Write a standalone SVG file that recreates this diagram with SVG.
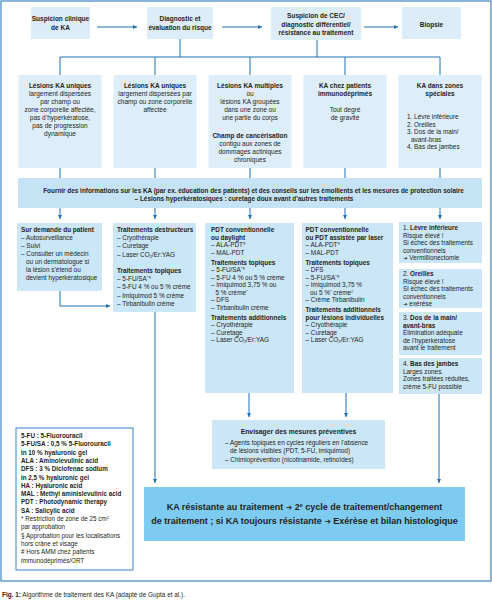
<svg xmlns="http://www.w3.org/2000/svg" width="492" height="600" viewBox="0 0 492 600">
<defs>
<style>
text{font-family:"Liberation Sans",Arial,sans-serif;fill:#231f20}
.hd{font-size:6.5px;font-weight:bold;text-anchor:middle}
.c{font-size:6.5px;text-anchor:middle}
.s{font-size:6.4px}
.l{font-size:6.3px;font-weight:bold}
.f{font-size:6.3px}
.b{font-weight:bold}
.ar{font-family:"DejaVu Sans",sans-serif;font-size:0.85em}
.top{fill:#dcecf8}
.col{fill:#ddedf9}
.band{fill:#c6e3f5}
.r3{fill:#cbe6f7}
.big{fill:#7dcbf0}
.ln{stroke:#1f6fb4;stroke-width:1;fill:none}
.la{stroke:#1f6fb4;stroke-width:1;fill:none;marker-end:url(#ah)}
</style>
<marker id="ah" viewBox="0 0 6 6" refX="6" refY="3" markerUnits="userSpaceOnUse" markerWidth="4.5" markerHeight="4.5" orient="auto">
<path d="M0,0 L6,3 L0,6 z" fill="#1f6fb4"/>
</marker>
</defs>
<rect x="1" y="1" width="490" height="580" fill="#fff" stroke="#3b82c4" stroke-width="1.2"/>

<g id="connectors">
<line class="la" x1="97" y1="27" x2="137" y2="27"/>
<line class="la" x1="222" y1="27" x2="262" y2="27"/>
<line class="la" x1="364" y1="27" x2="398" y2="27"/>
<line class="ln" x1="180" y1="39" x2="180" y2="57"/>
<line class="ln" x1="317" y1="40" x2="317" y2="57"/>
<line class="ln" x1="60" y1="57" x2="440" y2="57"/>
<line class="ln" x1="60" y1="57" x2="60" y2="75"/>
<line class="ln" x1="155" y1="57" x2="155" y2="75"/>
<line class="ln" x1="250" y1="57" x2="250" y2="75"/>
<line class="ln" x1="345" y1="57" x2="345" y2="75"/>
<line class="ln" x1="440" y1="57" x2="440" y2="75"/>
<line class="ln" x1="60" y1="168" x2="60" y2="178"/>
<line class="ln" x1="155" y1="168" x2="155" y2="178"/>
<line class="ln" x1="250" y1="168" x2="250" y2="178"/>
<line class="ln" x1="345" y1="168" x2="345" y2="178"/>
<line class="ln" x1="440" y1="168" x2="440" y2="178"/>
<line class="la" x1="60" y1="208" x2="60" y2="219"/>
<line class="la" x1="155" y1="208" x2="155" y2="219"/>
<line class="la" x1="250" y1="208" x2="250" y2="219"/>
<line class="la" x1="345" y1="208" x2="345" y2="219"/>
<line class="la" x1="440" y1="208" x2="440" y2="219"/>
<polyline class="la" points="60,291 60,306 110,306"/>
<line class="la" x1="155" y1="312" x2="155" y2="483"/>
<line class="la" x1="249" y1="393" x2="249" y2="417"/>
<line class="la" x1="346" y1="393" x2="346" y2="417"/>
<line class="la" x1="439" y1="394" x2="439" y2="483"/>
</g>

<g id="n-suspicion">
<rect class="top" x="31" y="7" width="59" height="32"/>
<text class="hd" x="60.5" y="21">Suspicion clinique</text>
<text class="hd" x="60.5" y="29.5">de KA</text>
</g>
<g id="n-diagnostic">
<rect class="top" x="147" y="7" width="66" height="32"/>
<text class="hd" x="180" y="21">Diagnostic et</text>
<text class="hd" x="180" y="29.5">évaluation du risque</text>
</g>
<g id="n-cec">
<rect class="top" x="271" y="7" width="90" height="33"/>
<text class="hd" x="316" y="18">Suspicion de CEC/</text>
<text class="hd" x="316" y="26.5">diagnostic différentiel/</text>
<text class="hd" x="316" y="35">résistance au traitement</text>
</g>
<g id="n-biopsie">
<rect class="top" x="402" y="7" width="59" height="32"/>
<text class="hd" x="431.5" y="27">Biopsie</text>
</g>

<g id="n-col1">
<rect class="col" x="18.5" y="75" width="83" height="93"/>
<text class="c b" x="60" y="87.5">Lésions KA uniques</text>
<text class="c" x="60" y="95.5">largement dispersées</text>
<text class="c" x="60" y="103.5">par champ ou</text>
<text class="c" x="60" y="111.5">zone corporelle affectée,</text>
<text class="c" x="60" y="119.5">pas d’hyperkératose,</text>
<text class="c" x="60" y="127.5">pas de progression</text>
<text class="c" x="60" y="135.5">dynamique</text>
</g>
<g id="n-col2">
<rect class="col" x="113.5" y="75" width="83" height="93"/>
<text class="c b" x="155" y="87.5">Lésions KA uniques</text>
<text class="c" x="155" y="95.5">largement dispersées par</text>
<text class="c" x="155" y="103.5">champ ou zone corporelle</text>
<text class="c" x="155" y="111.5">affectée</text>
</g>
<g id="n-col3">
<rect class="col" x="208.5" y="75" width="83" height="93"/>
<text class="c b" x="250" y="87.5">Lésions KA multiples</text>
<text class="c" x="250" y="95.5">ou</text>
<text class="c" x="250" y="103.5">lésions KA groupées</text>
<text class="c" x="250" y="111.5">dans une zone ou</text>
<text class="c" x="250" y="119.5">une partie du corps</text>
<text class="c b" x="250" y="137.5">Champ de cancérisation</text>
<text class="c" x="250" y="145.5">contigu aux zones de</text>
<text class="c" x="250" y="153.5">dommages actiniques</text>
<text class="c" x="250" y="161.5">chroniques</text>
</g>
<g id="n-col4">
<rect class="col" x="303.5" y="75" width="83" height="93"/>
<text class="c b" x="345" y="87.5">KA chez patients</text>
<text class="c b" x="345" y="95.5">immunodéprimés</text>
<text class="c" x="345" y="111.5">Tout degré</text>
<text class="c" x="345" y="119.5">de gravité</text>
</g>
<g id="n-col5">
<rect class="col" x="398.5" y="75" width="83" height="93"/>
<text class="c b" x="440" y="87.5">KA dans zones</text>
<text class="c b" x="440" y="95.5">spéciales</text>
<text class="s" x="407" y="119">1. Lèvre inférieure</text>
<text class="s" x="407" y="126.5">2. Oreilles</text>
<text class="s" x="407" y="134">3. Dos de la main/</text>
<text class="s" x="411" y="141.5">avant-bras</text>
<text class="s" x="407" y="149">4. Bas des jambes</text>
</g>

<g id="n-info">
<rect class="band" x="18" y="178" width="464" height="30"/>
<text class="c b" x="253.5" y="192.5" style="font-size:6.4px">Fournir des informations sur les KA (par ex. éducation des patients) et des conseils sur les émollients et les mesures de protection solaire</text>
<text class="c b" x="244" y="200.5" style="font-size:6.4px">– Lésions hyperkératosiques : curetage doux avant d’autres traitements</text>
</g>

<g id="n-patient">
<rect class="r3" x="17" y="223" width="85" height="68"/>
<text class="s b" x="21" y="232">Sur demande du patient</text>
<text class="s" x="21" y="240">– Autosurveillance</text>
<text class="s" x="21" y="248">– Suivi</text>
<text class="s" x="21" y="256">– Consulter un médecin</text>
<text class="s" x="26" y="264">ou un dermatologue si</text>
<text class="s" x="26" y="272">la lésion s’étend ou</text>
<text class="s" x="26" y="280">devient hyperkératosique</text>
</g>

<g id="n-destructeurs">
<rect class="r3" x="113" y="223" width="83" height="89"/>
<text class="s b" x="117" y="232">Traitements destructeurs</text>
<text class="s" x="117" y="240.2">– Cryothérapie</text>
<text class="s" x="117" y="248.4">– Curetage</text>
<text class="s" x="117" y="256.6">– Laser CO<tspan font-size="4.2" dy="1.3">2</tspan><tspan dy="-1.3">/Er:YAG</tspan></text>
<text class="s b" x="117" y="273">Traitements topiques</text>
<text class="s" x="117" y="281.2">– 5-FU/SA<tspan font-size="4.2" dy="-2">*§</tspan></text>
<text class="s" x="117" y="289.4">– 5-FU 4 % ou 5 % crème</text>
<text class="s" x="117" y="297.6">– Imiquimod  5 % crème</text>
<text class="s" x="117" y="305.8">– Tirbanibulin crème</text>
</g>

<g id="n-pdt1">
<rect class="r3" x="205" y="223" width="89" height="170"/>
<text class="s b" x="211" y="232">PDT conventionnelle</text>
<text class="s b" x="211" y="239.5">ou daylight</text>
<text class="s" x="211" y="247">– ALA-PDT<tspan font-size="4.2" dy="-2">§</tspan></text>
<text class="s" x="211" y="254.5">– MAL-PDT</text>
<text class="s b" x="211" y="264.5">Traitements topiques</text>
<text class="s" x="211" y="272">– 5-FU/SA<tspan font-size="4.2" dy="-2">*§</tspan></text>
<text class="s" x="211" y="279.5">– 5-FU 4 % ou 5 % crème</text>
<text class="s" x="211" y="287">– Imiquimod 3,75 % ou</text>
<text class="s" x="215.5" y="294.5">5 % crème<tspan font-size="4.2" dy="-2">*</tspan></text>
<text class="s" x="211" y="302">– DFS</text>
<text class="s" x="211" y="309.5">– Tirbanibulin crème</text>
<text class="s b" x="211" y="319.5">Traitements additionnels</text>
<text class="s" x="211" y="327">– Cryothérapie</text>
<text class="s" x="211" y="334.5">– Curetage</text>
<text class="s" x="211" y="342">– Laser CO<tspan font-size="4.2" dy="1.3">2</tspan><tspan dy="-1.3">/Er:YAG</tspan></text>
</g>

<g id="n-pdt2">
<rect class="r3" x="302" y="223" width="91" height="170"/>
<text class="s b" x="305.5" y="232">PDT conventionnelle</text>
<text class="s b" x="305.5" y="239.5">ou PDT assistée par laser</text>
<text class="s" x="305.5" y="247">– ALA-PDT<tspan font-size="4.2" dy="-2">§</tspan></text>
<text class="s" x="305.5" y="254.5">– MAL-PDT</text>
<text class="s b" x="305.5" y="264.5">Traitements topiques</text>
<text class="s" x="305.5" y="272">– DFS</text>
<text class="s" x="305.5" y="279.5">– 5-FU/SA<tspan font-size="4.2" dy="-2">*§</tspan></text>
<text class="s" x="305.5" y="287">– Imiquimod 3,75 %</text>
<text class="s" x="310" y="294.5">ou 5 %<tspan font-size="4.2" dy="-2">*</tspan><tspan dy="2"> crème</tspan><tspan font-size="4.2" dy="-2">#</tspan></text>
<text class="s" x="305.5" y="302">– Crème Tirbanibulin</text>
<text class="s b" x="305.5" y="312">Traitements additionnels</text>
<text class="s b" x="305.5" y="319.5">pour lésions individuelles</text>
<text class="s" x="305.5" y="327">– Cryothérapie</text>
<text class="s" x="305.5" y="334.5">– Curetage</text>
<text class="s" x="305.5" y="342">– Laser CO<tspan font-size="4.2" dy="1.3">2</tspan><tspan dy="-1.3">/Er:YAG</tspan></text>
</g>

<g id="n-levre">
<rect class="r3" x="399" y="222" width="83" height="41"/>
<text class="s" x="403" y="230">1. <tspan class="b">Lèvre inférieure</tspan></text>
<text class="s" x="403" y="237.5">Risque élevé !</text>
<text class="s" x="403" y="245">Si échec des traitements</text>
<text class="s" x="403" y="252.5">conventionnels</text>
<text class="s" x="403" y="260"><tspan class="ar">➔</tspan> Vermillionectomie</text>
</g>
<g id="n-oreilles">
<rect class="r3" x="399" y="269" width="83" height="39"/>
<text class="s" x="403" y="276">2. <tspan class="b">Oreilles</tspan></text>
<text class="s" x="403" y="283.5">Risque élevé !</text>
<text class="s" x="403" y="291">Si échec des traitements</text>
<text class="s" x="403" y="298.5">conventionnels</text>
<text class="s" x="403" y="306"><tspan class="ar">➔</tspan> exérèse</text>
</g>
<g id="n-dos">
<rect class="r3" x="399" y="312" width="83" height="43"/>
<text class="s" x="403" y="320">3. <tspan class="b">Dos de la main/</tspan></text>
<text class="s b" x="403" y="327.5">avant-bras</text>
<text class="s" x="403" y="335">Élimination adéquate</text>
<text class="s" x="403" y="342.5">de l’hyperkératose</text>
<text class="s" x="403" y="350">avant le traitement</text>
</g>
<g id="n-jambes">
<rect class="r3" x="399" y="358" width="83" height="36"/>
<text class="s" x="403" y="366">4. <tspan class="b">Bas des jambes</tspan></text>
<text class="s" x="403" y="373.5">Larges zones.</text>
<text class="s" x="403" y="381">Zones traitées réduites,</text>
<text class="s" x="403" y="388.5">crème 5-FU possible</text>
</g>

<g id="n-preventives">
<rect class="r3" x="212" y="420" width="173" height="49"/>
<text class="c b" x="298.5" y="434" style="font-size:6.8px">Envisager des mesures préventives</text>
<text class="s" x="225" y="445">– Agents topiques en cycles réguliers en l’absence</text>
<text class="s" x="230" y="453">de lésions visibles (PDT, 5-FU, imiquimod)</text>
<text class="s" x="225" y="461.5">– Chimioprévention (nicotinamide, retinoïdes)</text>
</g>

<g id="n-legend">
<rect x="16" y="428" width="117" height="142" fill="#fff" stroke="#3b82c4" stroke-width="1"/>
<text class="l" x="21" y="438">5-FU : 5-Fluorouracil</text>
<text class="l" x="21" y="446.3">5-FU/SA : 0,5 % 5-Fluorouracil</text>
<text class="l" x="21" y="454.6">in 10 % hyaluronic gel</text>
<text class="l" x="21" y="462.9">ALA : Aminolevulinic acid</text>
<text class="l" x="21" y="471.2">DFS : 3 % Diclofenac sodium</text>
<text class="l" x="21" y="479.5">in 2,5 % hyaluronic gel</text>
<text class="l" x="21" y="487.8">HA : Hyaluronic acid</text>
<text class="l" x="21" y="496.1">MAL : Methyl aminislevulinic acid</text>
<text class="l" x="21" y="504.4">PDT : Photodynamic therapy</text>
<text class="l" x="21" y="512.7">SA : Salicylic acid</text>
<text class="f" x="21" y="521">* Restriction de zone de 25 cm<tspan font-size="4.2" dy="-2">2</tspan></text>
<text class="f" x="21" y="529.3">par approbation</text>
<text class="f" x="21" y="537.6">§ Approbation pour les localisations</text>
<text class="f" x="21" y="545.9">hors crâne et visage</text>
<text class="f" x="21" y="554.2"># Hors AMM chez patients</text>
<text class="f" x="21" y="562.5">immunodéprimés/ORT</text>
</g>

<g id="n-resistante">
<rect class="big" x="144" y="487" width="321" height="54"/>
<text x="304.5" y="510" text-anchor="middle" font-weight="bold" font-size="9">KA résistante au traitement <tspan class="ar">➔</tspan> 2<tspan font-size="5.4" dy="-3.2">e</tspan><tspan dy="3.2"> cycle de traitement/changement</tspan></text>
<text x="304.5" y="524" text-anchor="middle" font-weight="bold" font-size="9">de traitement ; si KA toujours résistante <tspan class="ar">➔</tspan> Exérèse et bilan histologique</text>
</g>

<text x="2" y="597" font-size="6.4" fill="#333"><tspan font-weight="bold">Fig. 1:</tspan> Algorithme de traitement des KA (adapté de Gupta et al.).</text>
</svg>
